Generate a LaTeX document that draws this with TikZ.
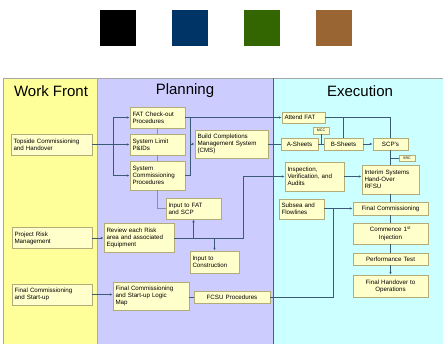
\documentclass[tikz,border=0pt]{standalone}
\usepackage{fontspec}
\setmainfont{Liberation Sans}
\usetikzlibrary{arrows.meta}
\definecolor{sqblue}{HTML}{003366}
\definecolor{sqgreen}{HTML}{336600}
\definecolor{sqbrown}{HTML}{996633}
\definecolor{wfpanel}{HTML}{FFFF99}
\definecolor{plpanel}{HTML}{CCCCFF}
\definecolor{expanel}{HTML}{CCFFFF}
\definecolor{boxfill}{HTML}{FFFFCC}
\definecolor{boxedge}{HTML}{B4AC78}
\definecolor{linecol}{HTML}{3C5A78}
\definecolor{thincol}{HTML}{8C8CB4}
\tikzset{
  panel/.style={draw=#1, line width=0.8pt},
  hdr/.style={font=\fontsize{15}{17}\selectfont, inner sep=0pt},
  box/.style={draw=boxedge, fill=boxfill, line width=0.9pt, inner xsep=2.5pt, inner ysep=1pt,
    font=\fontsize{6.2}{7.2}\selectfont},
  lbox/.style={box, align=left},
  cbox/.style={box, align=center},
  tag/.style={draw=boxedge, fill=boxfill, line width=0.6pt, inner sep=0pt,
    font=\fontsize{3.6}{4}\selectfont},
  conn/.style={draw=linecol, line width=0.6pt},
  arr/.style={conn, -{Latex[length=2.8pt,width=2.6pt]}},
  faint/.style={draw=thincol, line width=0.6pt},
}
\newcommand{\bx}[7]{% style, name, cx, cy, w, h, text
  \node[#1, minimum width=#5pt, minimum height=#6pt, text width=#5pt-5pt] (#2) at (#3,#4) {#7};}
\begin{document}
\begin{tikzpicture}[x=1pt,y=-1pt]
\useasboundingbox (0,0) rectangle (443,343);
\clip (0,0) rectangle (443,343);
% colour squares
\fill[black] (100,10) rectangle (136,46);
\fill[sqblue] (172,10) rectangle (208,46);
\fill[sqgreen] (244,10) rectangle (280,46);
\fill[sqbrown] (316,10) rectangle (352,46);
% panels
\filldraw[fill=wfpanel, panel=gray!70] (3,78) rectangle (97,350);
\filldraw[fill=plpanel, panel=gray!70] (97,78) rectangle (273,350);
\filldraw[fill=expanel, panel=gray!70] (273,78) rectangle (446,350);
\draw[draw=olive!60, line width=0.8pt] (97,78) -- (97,350);
\draw[draw=blue!35!gray, line width=0.8pt] (273,78) -- (273,350);
\node[hdr] (hwf) at (51,91) {Work Front};
\node[hdr] (hpl) at (185,91) {Planning};
\node[hdr] (hex) at (360,91) {Execution};
% Work Front boxes
\bx{lbox}{topside}{51.5}{144.5}{81}{21}{Topside Commissioning\\and Handover}
\bx{lbox}{risk}{52}{238}{80}{21}{Project Risk\\Management}
\bx{lbox}{fcz}{52}{294.5}{80}{21}{Final Commissioning\\and Start-up}
% Planning boxes
\bx{lbox}{fat}{157.5}{117.5}{55}{21}{FAT Check-out\\Procedures}
\bx{lbox}{slp}{157.5}{144.5}{55}{21}{System Limit\\P\&IDs}
\bx{lbox}{scp}{157.5}{175.5}{55}{29}{System\\Commissioning\\Procedures}
\bx{lbox}{cms}{231.5}{144}{73}{28}{Build Completions\\Management System\\(CMS)}
\bx{lbox}{infat}{193.5}{208.5}{55}{21}{Input to FAT\\and SCP}
\bx{lbox}{review}{139}{238}{70}{29}{Review each Risk\\area and associated\\Equipment}
\bx{lbox}{incon}{214.5}{262}{49}{22}{Input to\\Construction}
\bx{lbox}{logic}{151}{296}{76}{28}{Final Commissioning\\and Start-up Logic\\Map}
\bx{cbox}{fcsup}{232}{297}{76}{12}{FCSU Procedures}
% Execution boxes
\bx{lbox}{attend}{303.5}{117.5}{43}{11}{Attend FAT}
\bx{cbox}{asheets}{299.5}{144}{37}{12}{A-Sheets}
\bx{cbox}{bsheets}{343.5}{144}{39}{12}{B-Sheets}
\bx{cbox}{scps}{390.5}{144}{35}{12}{SCP's}
\bx{lbox}{insp}{314.5}{176.5}{59}{29}{Inspection,\\Verification, and\\Audits}
\bx{lbox}{interim}{390.5}{179.5}{57}{29}{Interim Systems\\Hand-Over\\RFSU}
\bx{lbox}{subsea}{301.5}{209}{45}{20}{Subsea and\\Flowlines}
\bx{cbox}{fc}{390.5}{208.5}{75}{13}{Final Commissioning}
\bx{cbox}{commence}{390.5}{233.5}{75}{21}{Commence 1\textsuperscript{st}\\Injection}
\bx{cbox}{perf}{390.5}{259}{75}{12}{Performance Test}
\bx{cbox}{handover}{390.5}{286}{75}{22}{Final Handover to\\Operations}
\node[tag, minimum width=16pt, minimum height=7pt] (mcc) at (321,130.5) {MCC};
\node[tag, minimum width=16pt, minimum height=6pt] (src) at (407,158) {SRC};
% connectors: Work Front -> Planning
\coordinate (tbus) at (113,144.5);
\draw[arr] (topside.east) -- (slp.west);
\draw[arr] (tbus) |- (fat.west);
\draw[arr] (tbus) |- (scp.west);
\draw[arr] (risk.east) -- (review.west);
\draw[arr] (fcz.east) -- (fcz.east -| logic.west);
% faint chain in planning
\draw[faint] (fat.south) -- (slp.north);
\draw[faint] (slp.south) -- (scp.north);
\draw[faint] (scp.south) |- (infat.west);
% procedures bus
\coordinate (rbus) at (190,144);
\draw[conn] (fat.east -| rbus) -- (scp.east -| rbus) -- (scp.east);
\draw[arr] (rbus) -- (cms.west);
\draw[arr] (fat.east) -- (attend.west);
\draw[conn] (cms.east) -- (asheets.west);
% execution sheets
\draw[conn] (attend.east) -| (scps.north);
\draw[conn] (attend.east -| bsheets.north) -- (bsheets.north);
\draw[conn] (asheets.east) -- (bsheets.west);
\draw[conn] (mcc.south) -- (mcc.south |- asheets.east);
\draw[arr] (bsheets.east) -- (scps.west);
\draw[conn] (scps.south) -- (interim.north);
\draw[conn] (src.west) -- (src.west -| scps.south);
\draw[arr] (insp.east) -- (insp.east -| interim.west);
\draw[conn] (interim.south) -- (fc.north);
\draw[conn] (fc.south) -- (commence.north);
\draw[conn] (commence.south) -- (perf.north);
\draw[arr] (perf.south) -- (handover.north);
% risk review fan-out
\coordinate (rv) at (243.5,238);
\draw[conn] (review.east) -- (rv);
\draw[arr] (rv) |- (insp.west);
\draw[arr] (infat.south |- rv) -- (infat.south);
\draw[arr] (incon.north |- rv) -- (incon.north);
% FCSU path
\coordinate (fv) at (333,297);
\draw[conn] (logic.east |- fcsup.west) -- (fcsup.west);
\draw[conn] (fcsup.east) -- (fv) -- (fv |- fc.west);
\draw[arr] (subsea.east |- fc.west) -- (fc.west);
\end{tikzpicture}
\end{document}
